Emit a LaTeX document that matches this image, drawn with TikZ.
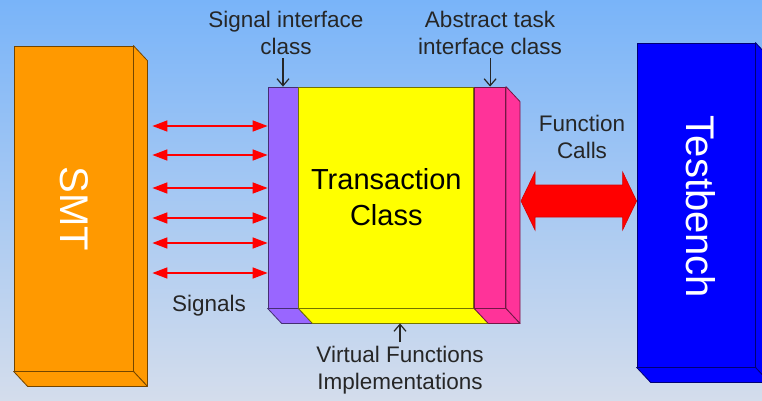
\documentclass[tikz,border=0pt]{standalone}
\usepackage{fontspec}
\setmainfont{Liberation Sans}
\usetikzlibrary{arrows.meta,positioning,calc}

\definecolor{smtorange}{RGB}{255,153,0}
\definecolor{sifpurple}{RGB}{153,102,255}
\definecolor{aifpink}{RGB}{255,51,153}
\definecolor{tcyellow}{RGB}{255,255,0}
\definecolor{tbblue}{RGB}{0,0,255}
\definecolor{skytop}{RGB}{121,180,249}
\definecolor{skymid}{RGB}{165,201,242}
\definecolor{skybot}{RGB}{212,221,236}

% depth faces of a slab node
\newcommand{\sideface}[2]{\filldraw[fill=#2,draw=#2!45!black,line width=0.8pt,line join=round]
  (#1.north east) -- ++(14,15) -- ($(#1.south east)+(14,15)$) -- (#1.south east) -- cycle;}
\newcommand{\baseface}[2]{\filldraw[fill=#2,draw=#2!45!black,line width=0.8pt,line join=round]
  (#1.south west) -- ++(14,15) -- ($(#1.south east)+(14,15)$) -- (#1.south east) -- cycle;}

\begin{document}
\begin{tikzpicture}[x=1pt, y=-1pt, >={Straight Barb[length=7pt,width=12pt]},
      slab/.style={rectangle,draw=#1!45!black,fill=#1,line width=0.8pt,inner sep=0pt},
      lbl/.style={font=\fontsize{22.5}{27}\selectfont,text=black!85,align=center},
      big/.style={font=\fontsize{40}{48}\selectfont,text=white,rotate=-90},
      sig/.style={draw=red,line width=1.6pt,{Triangle[length=15pt,width=11pt]}-{Triangle[length=15pt,width=11pt]}},
      ptr/.style={->,line width=1.2pt,black!85}]
      \useasboundingbox (0,0) rectangle (762,401);
      \shade[top color=skytop,middle color=skymid,bottom color=skybot] (0,0) rectangle (762,401);

      \node[slab=smtorange,minimum width=119pt,minimum height=325pt] at (73.5,208.5) (smt) {};
      \sideface{smt}{smtorange}
      \baseface{smt}{smtorange}
      \node[big] at (74.5,209) (smtname) {SMT};

      \node[slab=tbblue,minimum width=118pt,minimum height=324pt] at (696,205) (tb) {};
      \sideface{tb}{tbblue}
      \baseface{tb}{tbblue}
      \node[big] at (701,207) (tbname) {Testbench};

      \node[slab=sifpurple,minimum width=30pt,minimum height=221pt] at (283,197.5) (sif) {};
      \node[slab=tcyellow,minimum width=175pt,minimum height=221pt,right=0pt of sif] (tc) {};
      \node[slab=aifpink,minimum width=31pt,minimum height=221pt,right=0pt of tc] (aif) {};
      \baseface{sif}{sifpurple}
      \baseface{tc}{tcyellow}
      \baseface{aif}{aifpink}
      \sideface{aif}{aifpink}
      \node[font=\fontsize{29}{36}\selectfont,align=center] at (tc) (tcname) {Transaction\\Class};

      \node[lbl] at (286,33) (siflabel) {Signal interface\\class};
      \node[lbl] at (490,33) (aiflabel) {Abstract task\\interface class};
      \node[lbl] at (582,137) (fclabel) {Function\\Calls};
      \node[lbl] at (400,370) (vflabel) {Virtual Functions\\Implementations};
      \node[lbl] at (209,306) (siglabel) {Signals};

      \draw[ptr] (sif.north |- siflabel.south) -- (sif.north);
      \draw[ptr] (aif.north |- aiflabel.south) -- (aif.north);
      \coordinate (tcbase) at ($(tc.south)+(14,15)$);
      \draw[ptr] (vflabel.north) -- (vflabel.north |- tcbase);

      \foreach \y in {126,155,188,218,243,273}
        \draw[sig] ($(smt.east |- 0,\y)+(19,0)$) -- (sif.west |- 0,\y);

      \coordinate (fcleft) at ($(aif.east |- 0,201)+(15,0)$);
      \coordinate (fcright) at (tb.west |- 0,201);
      \filldraw[fill=red,draw=red!85!black,line width=0.6pt,line join=miter]
        (fcleft) -- ++(14,-29) -- ++(0,13) -| ($(fcright)+(-14,-29)$) -- (fcright)
        -- ++(-14,29) -- ++(0,-13) -| ($(fcleft)+(14,29)$) -- cycle;
    \end{tikzpicture}
\end{document}
